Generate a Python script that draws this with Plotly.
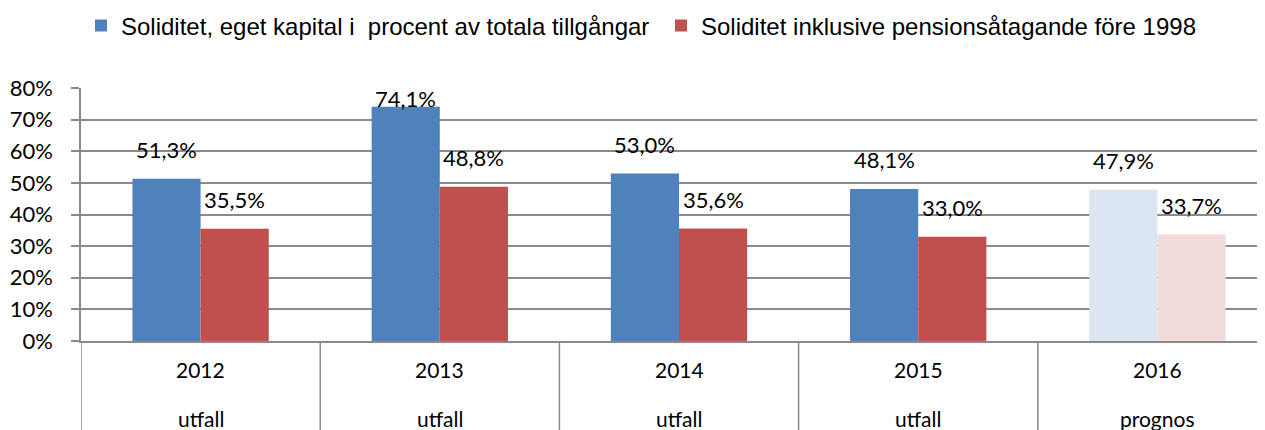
import plotly.graph_objects as go

years = ["2012", "2013", "2014", "2015", "2016"]
status = ["utfall", "utfall", "utfall", "utfall", "prognos"]
soliditet = [0.513, 0.741, 0.530, 0.481, 0.479]
soliditet_pension = [0.355, 0.488, 0.356, 0.330, 0.337]
labels_a = ["51,3%", "74,1%", "53,0%", "48,1%", "47,9%"]
labels_b = ["35,5%", "48,8%", "35,6%", "33,0%", "33,7%"]
name_a = "Soliditet, eget kapital i \u00a0procent av totala tillgångar"
name_b = "Soliditet inklusive pensionsåtagande före 1998"
y_ticks = [0, 0.1, 0.2, 0.3, 0.4, 0.5, 0.6, 0.7, 0.8]
Y_MAX = 0.8

BLUE, BLUE_L = "#4F81BD", "#DCE6F2"
RED, RED_L = "#C0504D", "#F2DCDB"
GRID = "#8A8A8A"
# page body has an 8px margin; figure is laid out to compensate
OFF = 8
W, H = 1265 - OFF, 430 - OFF
ML, MT, MB, MR = 81 - OFF, 88 - OFF, 89, 0
PH = H - MT - MB
PW = W - ML - MR
BARGAP = 0.43
half = (1 - BARGAP) / 4

col_a = [BLUE_L if s == "prognos" else BLUE for s in status]
col_b = [RED_L if s == "prognos" else RED for s in status]

fig = go.Figure()
fig.add_trace(go.Bar(x=years, y=soliditet, name=name_a, marker=dict(color=col_a, line=dict(width=0)),
                     legend="legend", hoverinfo="skip"))
fig.add_trace(go.Bar(x=years, y=soliditet_pension, name=name_b, marker=dict(color=col_b, line=dict(width=0)),
                     legend="legend2", hoverinfo="skip"))


def label_shift(v, want=29):
    # keep label inside plot area (like the source chart does)
    room = PH - v / Y_MAX * PH
    return min(want, room - 10)


TXT = "Lato"
ann = []
lab_font = dict(family=TXT, size=22, color="black", weight="normal")
cat_font = dict(family=TXT, size=21, color="black", weight="normal")
for i in range(len(years)):
    ann.append(dict(x=i - half, y=soliditet[i], xref="x", yref="y", text=labels_a[i], showarrow=False,
                    yanchor="middle", yshift=label_shift(soliditet[i]), font=lab_font))
    ann.append(dict(x=i + half, y=soliditet_pension[i], xref="x", yref="y", text=labels_b[i], showarrow=False,
                    yanchor="middle", yshift=label_shift(soliditet_pension[i]), font=lab_font))
    ann.append(dict(x=i, y=-28 / PH, xref="x", yref="paper", text=years[i], showarrow=False,
                    yanchor="middle", font=cat_font))
    ann.append(dict(x=i, y=-77 / PH, xref="x", yref="paper", text=status[i], showarrow=False,
                    yanchor="middle", font=cat_font))

shapes = []
for k in range(len(years) + 1):
    shapes.append(dict(type="line", xref="x", yref="paper", x0=k - 0.5, x1=k - 0.5, y0=0, y1=-(MB + 5) / PH,
                       line=dict(color=GRID, width=1.5)))

last = len(years) - 1
leg_font = dict(family="Liberation Sans", size=24, color="black")
leg_y = (PH + MT - (26 - OFF)) / PH
fig.update_layout(
    width=W, height=H,
    margin=dict(l=ML, r=MR, t=MT, b=MB, pad=0, autoexpand=False),
    plot_bgcolor="white", paper_bgcolor="white",
    barmode="group", bargap=BARGAP, bargroupgap=0,
    xaxis=dict(type="category", range=[-0.5, last + 0.5 - 12 / 239.25], showticklabels=False,
               showgrid=False, showline=True, linecolor=GRID, linewidth=1.5, ticks="", fixedrange=True),
    yaxis=dict(range=[0, Y_MAX], tickvals=y_ticks, tickformat=".0%", showgrid=True, gridcolor=GRID,
               gridwidth=1.5, showline=True, linecolor=GRID, linewidth=1.5, ticks="outside",
               ticklen=8, tickcolor=GRID, tickwidth=1.5, ticklabelstandoff=14, zeroline=False,
               tickfont=dict(family=TXT, size=22, color="black", weight="normal")),
    annotations=ann, shapes=shapes,
    legend=dict(orientation="h", x=(81 - OFF - ML) / PW, xanchor="left", y=leg_y, yanchor="middle",
                font=leg_font, bgcolor="rgba(0,0,0,0)"),
    legend2=dict(orientation="h", x=(661 - OFF - ML) / PW, xanchor="left", y=leg_y, yanchor="middle",
                 font=leg_font, bgcolor="rgba(0,0,0,0)"),
    showlegend=True,
)
fig.write_html("out.html")
